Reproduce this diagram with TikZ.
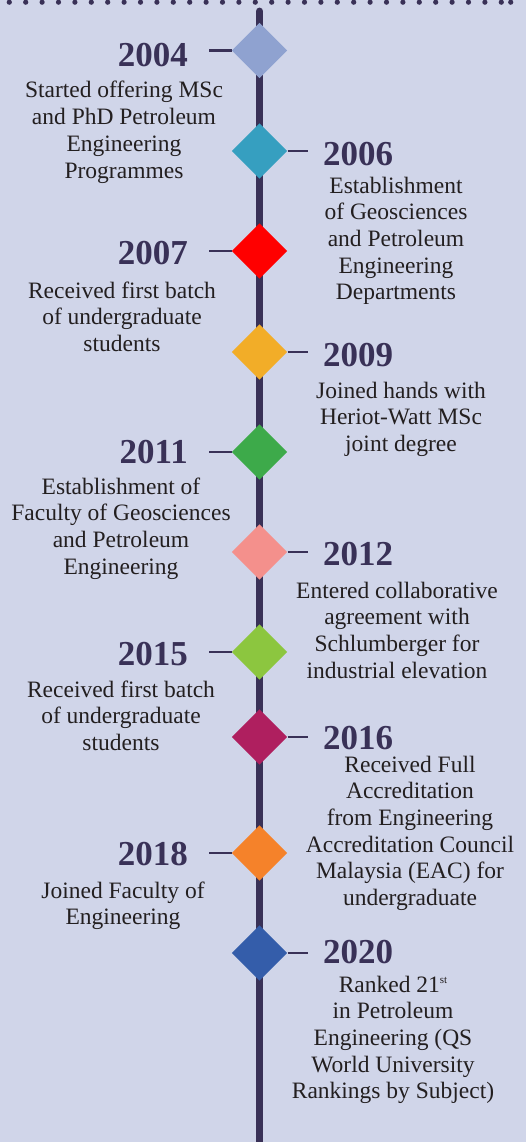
\documentclass[tikz,border=0pt]{standalone}
\usepackage{fontspec}
\setmainfont{Liberation Serif}
\usetikzlibrary{shapes.geometric}
\definecolor{bgcol}{HTML}{D0D5E9}
\definecolor{linecol}{HTML}{393157}
\definecolor{bodycol}{HTML}{231F20}
\definecolor{c04}{HTML}{8FA2D0}
\definecolor{c06}{HTML}{369FC0}
\definecolor{c07}{HTML}{FF0000}
\definecolor{c09}{HTML}{F2AD28}
\definecolor{c11}{HTML}{3DAA4A}
\definecolor{c12}{HTML}{F4908C}
\definecolor{c15}{HTML}{8CC63F}
\definecolor{c16}{HTML}{AF1F5F}
\definecolor{c18}{HTML}{F5822A}
\definecolor{c20}{HTML}{345DAA}
\begin{document}
\begin{tikzpicture}[x=1pt, y=-1pt,
    gem/.style={diamond, minimum width=55.6pt, minimum height=55.6pt, inner sep=0pt},
    year/.style={inner sep=0pt, text=linecol, font=\fontsize{35}{35}\selectfont\bfseries},
    info/.style={inner sep=0pt, align=center, anchor=base, text=bodycol, font=\fontsize{23.5}{26.7}\selectfont},
    tick/.style={linecol, line width=2.6pt}]
    \fill[bgcol] (0,0) rectangle (526,1142);
    \useasboundingbox (0,0) rectangle (526,1142);
    \foreach \i in {0,...,30} \fill[linecol] (9.3+16.4*\i, 2.2) circle (2.6);
    \fill[linecol] (510.7, 2.2) circle (2.6);

    \coordinate (top) at (259.5, 11.2);
    \coordinate (bottom) at (259.5, 1150);
    \draw[linecol, line width=7.3pt, line cap=round] (top) -- (bottom);

    \node[gem, fill=c04] (d04) at (259.5, 50.5) {};
    \node[year, anchor=base east] (y04) at (188, 66.7) {2004};
    \node[info] (t04) at (124, 98+3*26.7) {Started offering MSc\\and PhD Petroleum\\Engineering\\Programmes};
    \draw[tick] (d04.west) -- (d04.west -| y04.east) [shorten >=21pt];

    \node[gem, fill=c06] (d06) at (259.5, 151) {};
    \node[year, anchor=base west] (y06) at (323, 166) {2006};
    \node[info] (t06) at (396, 193+4*26.7) {Establishment\\of Geosciences\\and Petroleum\\Engineering\\Departments};
    \draw[tick] (d06.east) -- (d06.east -| y06.west) [shorten >=15pt];

    \node[gem, fill=c07] (d07) at (259.5, 251) {};
    \node[year, anchor=base east] (y07) at (188, 264) {2007};
    \node[info] (t07) at (122, 298+2*26.7) {Received first batch\\of undergraduate\\students};
    \draw[tick] (d07.west) -- (d07.west -| y07.east) [shorten >=21pt];

    \node[gem, fill=c09] (d09) at (259.5, 352) {};
    \node[year, anchor=base west] (y09) at (323, 366) {2009};
    \node[info] (t09) at (401, 398+2*26.7) {Joined hands with\\Heriot-Watt MSc\\joint degree};
    \draw[tick] (d09.east) -- (d09.east -| y09.west) [shorten >=15pt];

    \node[gem, fill=c11] (d11) at (259.5, 452) {};
    \node[year, anchor=base east] (y11) at (188, 463) {2011};
    \node[info] (t11) at (121, 494+3*26.7) {Establishment of\\Faculty of Geosciences\\and Petroleum\\Engineering};
    \draw[tick] (d11.west) -- (d11.west -| y11.east) [shorten >=21pt];

    \node[gem, fill=c12] (d12) at (259.5, 552) {};
    \node[year, anchor=base west] (y12) at (323, 565) {2012};
    \node[info] (t12) at (397, 598+3*26.7) {Entered collaborative\\agreement with\\Schlumberger for\\industrial elevation};
    \draw[tick] (d12.east) -- (d12.east -| y12.west) [shorten >=15pt];

    \node[gem, fill=c15] (d15) at (259.5, 652) {};
    \node[year, anchor=base east] (y15) at (188, 665) {2015};
    \node[info] (t15) at (121, 697+2*26.7) {Received first batch\\of undergraduate\\students};
    \draw[tick] (d15.west) -- (d15.west -| y15.east) [shorten >=21pt];

    \node[gem, fill=c16] (d16) at (259.5, 737) {};
    \node[year, anchor=base west] (y16) at (323, 749) {2016};
    \node[info] (t16) at (410, 772+5*26.7) {Received Full\\Accreditation\\from Engineering\\Accreditation Council\\Malaysia (EAC) for\\undergraduate};
    \draw[tick] (d16.east) -- (d16.east -| y16.west) [shorten >=15pt];

    \node[gem, fill=c18] (d18) at (259.5, 853) {};
    \node[year, anchor=base east] (y18) at (188, 865) {2018};
    \node[info] (t18) at (123, 898+26.7) {Joined Faculty of\\Engineering};
    \draw[tick] (d18.west) -- (d18.west -| y18.east) [shorten >=21pt];

    \node[gem, fill=c20] (d20) at (259.5, 953) {};
    \node[year, anchor=base west] (y20) at (323, 963) {2020};
    \node[info] (t20) at (393, 992+4*26.7) {Ranked 21\raisebox{0.38em}{\fontsize{11}{11}\selectfont st}\\in Petroleum\\Engineering (QS\\World University\\Rankings by Subject)};
    \draw[tick] (d20.east) -- (d20.east -| y20.west) [shorten >=15pt];
\end{tikzpicture}
\end{document}
